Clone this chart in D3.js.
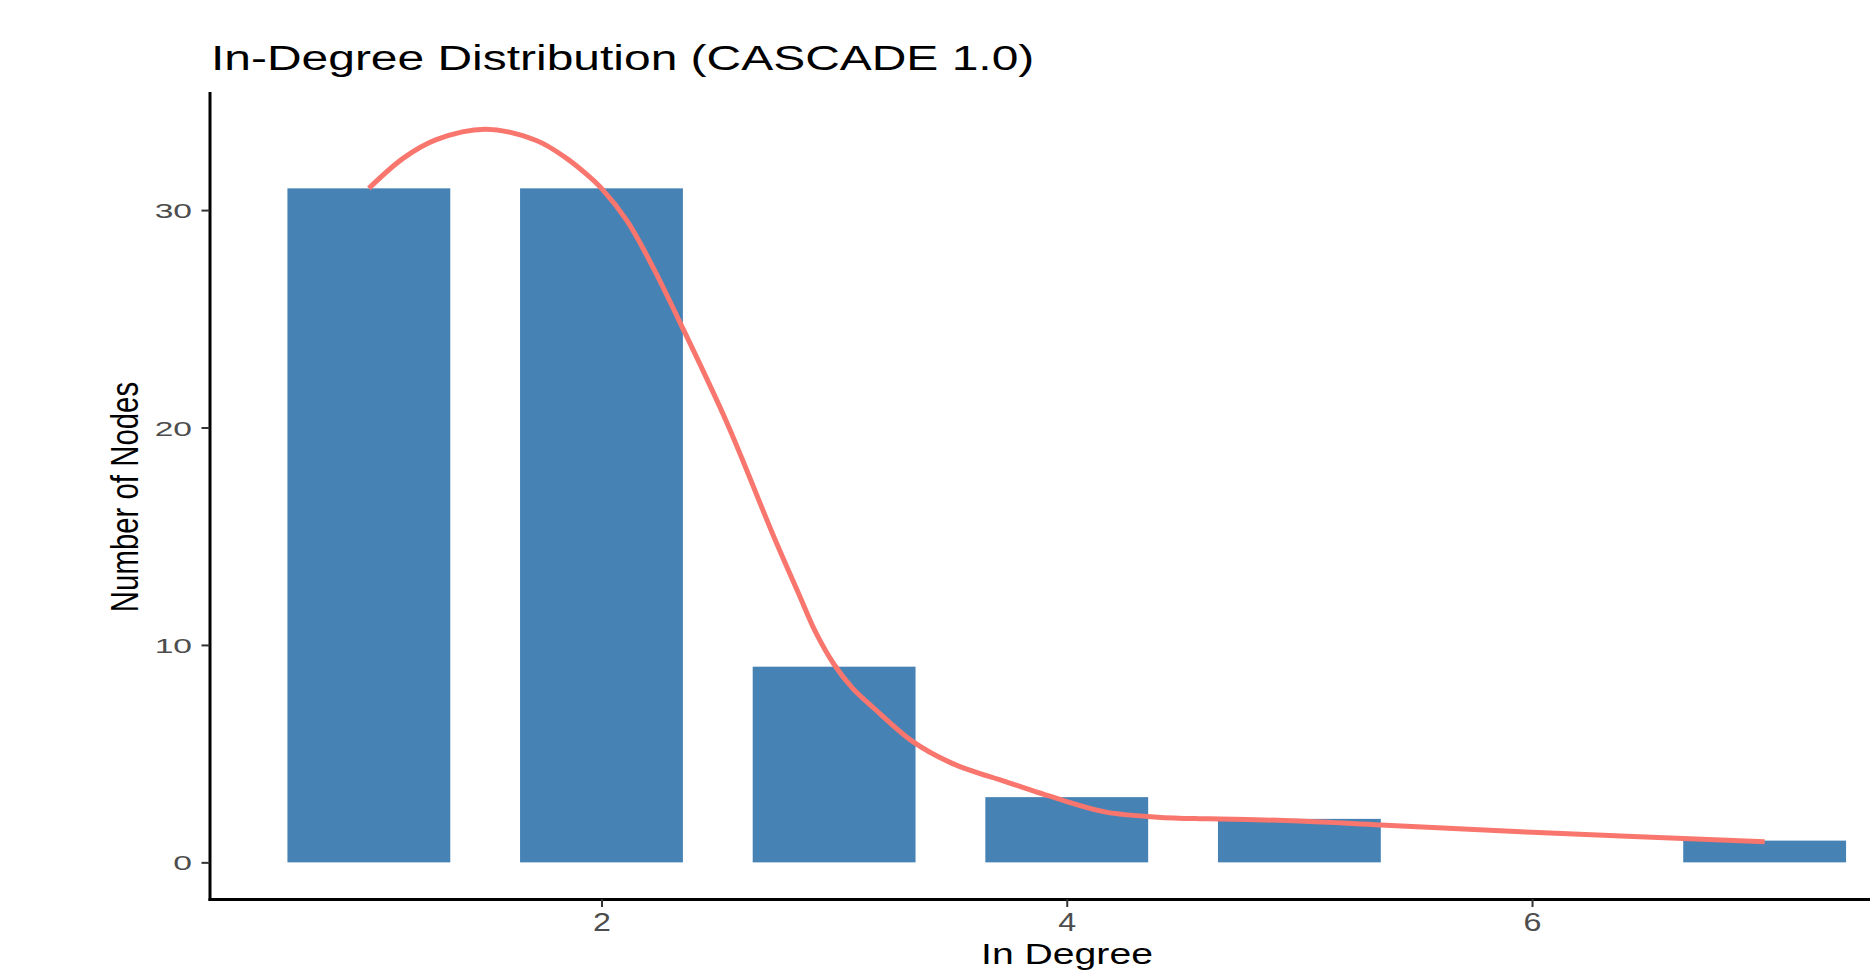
<!DOCTYPE html>
<html>
<head>
<meta charset="utf-8">
<script src="https://cdn.jsdelivr.net/npm/d3@7"></script>
<style>
  html, body { margin: 0; padding: 0; background: #fff; overflow: hidden; }
  svg { display: block; font-family: "Liberation Sans", Arial, Helvetica, sans-serif; }
</style>
</head>
<body>
<svg id="chart" width="1870" height="976"></svg>
<script>
// ---- data ----
const categories = [1, 2, 3, 4, 5, 7];          // in-degree values
const counts = [31, 31, 9, 3, 2, 1];            // number of nodes
const smoothX = [1.0, 1.15, 1.29, 1.5, 1.72, 1.85, 1.93, 2.0, 2.11, 2.22, 2.33, 2.54, 2.74, 2.85, 2.92, 3.0, 3.08, 3.17, 3.34, 3.51, 3.74, 3.96, 4.17, 4.39, 4.57, 4.66, 5.0, 5.35, 6.0, 7.0];
const smoothY = [31.0, 32.4, 33.24, 33.72, 33.2, 32.38, 31.7, 31.0, 29.5, 27.4, 25.0, 20.2, 15.0, 12.3, 10.6, 9.1, 8.0, 7.1, 5.54, 4.54, 3.70, 2.93, 2.31, 2.08, 2.01, 2.0, 1.9, 1.72, 1.38, 0.95];
const xTicks = [2, 4, 6];
const yTicks = [0, 10, 20, 30];
const titleText = "In-Degree Distribution (CASCADE 1.0)";
const xLabel = "In Degree";
const yLabel = "Number of Nodes";

// ---- layout ----
const svg = d3.select("#chart");
const plotLeft = 209.5, plotBottom = 899, plotTop = 93;
const barWidth = 0.7;

const x = d3.scaleLinear().domain([0.315, 7.685]).range([plotLeft, 1924]);
const y = d3.scaleLinear().domain([-1.685, 35.385]).range([plotBottom, plotTop]);

// bars
svg.append("g").selectAll("rect")
  .data(categories.map((c, i) => ({c, v: counts[i]})))
  .join("rect")
  .attr("x", d => x(d.c - barWidth / 2))
  .attr("width", d => x(d.c + barWidth / 2) - x(d.c - barWidth / 2))
  .attr("y", d => y(d.v))
  .attr("height", d => y(0) - y(d.v))
  .attr("fill", "#4682B4");

// smooth line
const pts = smoothX.map((v, i) => [v, smoothY[i]]);
svg.append("path")
  .datum(pts)
  .attr("fill", "none")
  .attr("stroke", "#F8766D")
  .attr("stroke-width", 5)
  .attr("stroke-linejoin", "round")
  .attr("d", d3.line().x(d => x(d[0])).y(d => y(d[1])).curve(d3.curveCatmullRom.alpha(0.5)));

// y axis
const yScaleX = 1.6;
const gy = svg.append("g").attr("transform", `translate(${plotLeft},0)`)
  .call(d3.axisLeft(y).tickValues(yTicks).tickSize(8).tickSizeOuter(0));
gy.select(".domain").attr("stroke", "#000").attr("stroke-width", 3).attr("stroke-linecap", "square");
gy.selectAll(".tick line").attr("stroke", "#333").attr("stroke-width", 2);
gy.selectAll(".tick text")
  .attr("font-size", 21)
  .attr("fill", "#4d4d4d")
  .attr("font-family", "Liberation Sans, Arial, sans-serif")
  .attr("x", -(plotLeft - 192) / yScaleX)
  .attr("dy", "0.36em")
  .attr("transform", `scale(${yScaleX},1)`);

// x axis
const xScaleX = 1.24;
const gx = svg.append("g").attr("transform", `translate(0,${plotBottom})`)
  .call(d3.axisBottom(x).tickValues(xTicks).tickSize(8).tickSizeOuter(0));
gx.select(".domain").attr("stroke", "#000").attr("stroke-width", 3).attr("stroke-linecap", "square");
gx.selectAll(".tick line").attr("stroke", "#333").attr("stroke-width", 2);
gx.selectAll(".tick text")
  .attr("font-size", 26)
  .attr("fill", "#4d4d4d")
  .attr("font-family", "Liberation Sans, Arial, sans-serif")
  .attr("y", 32)
  .attr("dy", 0)
  .attr("transform", `scale(${xScaleX},1)`);

// title
svg.append("text")
  .attr("transform", "translate(211,70) scale(1.37,1)")
  .attr("font-size", 35)
  .attr("fill", "#000")
  .text(titleText);

// x label
svg.append("text")
  .attr("transform", "translate(1067,964) scale(1.35,1)")
  .attr("text-anchor", "middle")
  .attr("font-size", 29)
  .attr("fill", "#000")
  .text(xLabel);

// y label
svg.append("text")
  .attr("transform", "translate(138,497) scale(1.33,1) rotate(-90)")
  .attr("text-anchor", "middle")
  .attr("font-size", 29.4)
  .attr("fill", "#000")
  .text(yLabel);
</script>
</body>
</html>
